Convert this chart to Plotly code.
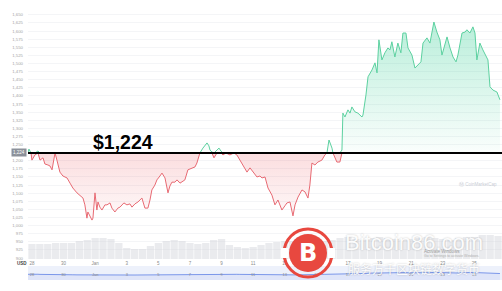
import plotly.graph_objects as go

# ---------------- data ----------------
baseline = 1224

day = [-0.25, -0.19, -0.06, 0.0, 0.19, 0.38, 0.51, 0.70, 0.82, 1.01, 1.14, 1.27, 1.46, 1.58,
       1.77, 1.96, 2.22, 2.41, 2.59, 2.85, 3.04, 3.23, 3.35, 3.48, 3.54, 3.67, 3.80, 3.86,
       3.99, 4.11, 4.18, 4.30, 4.43, 4.62, 4.75, 4.94, 5.06, 5.25, 5.44, 5.57, 5.82, 6.01,
       6.20, 6.33, 6.52, 6.71, 6.96, 7.15, 7.34, 7.47, 7.59, 7.78, 7.91, 8.10, 8.23, 8.42,
       8.61, 8.73, 8.86, 9.05, 9.18, 9.37, 9.56, 9.68, 9.87, 10.13, 10.32, 10.44, 10.63,
       10.82, 10.95, 11.08, 11.20, 11.27, 11.39, 11.52, 11.71, 11.84, 11.96, 12.09, 12.28,
       12.53, 12.78, 12.97, 13.16, 13.29, 13.48, 13.61, 13.80, 13.99, 14.24, 14.43, 14.56,
       14.75, 14.94, 15.19, 15.38, 15.57, 15.82, 16.01, 16.14, 16.33, 16.52, 16.65, 16.84,
       17.09, 17.28, 17.47, 17.59, 17.72, 17.91, 18.10, 18.35, 18.54, 18.67, 18.80, 18.99,
       19.05, 19.30, 19.49, 19.62, 19.68, 19.81, 20.00, 20.13, 20.25, 20.44, 20.63, 20.89,
       20.95, 21.14, 21.27, 21.52, 21.71, 21.84, 21.96, 22.15, 22.34, 22.53, 22.66, 22.78,
       22.97, 23.16, 23.35, 23.48, 23.67, 23.80, 24.05, 24.24, 24.43, 24.62, 24.75, 25.00,
       25.19, 25.44, 25.63, 25.82, 25.95, 26.08, 26.27, 26.46, 26.65, 26.84, 26.96, 27.22,
       27.41, 27.53, 27.72, 27.91, 28.04, 28.16, 28.35, 28.54, 28.80, 28.86, 28.99, 29.18,
       29.43, 29.62]

price = [1224, 1236, 1224, 1202, 1218, 1230, 1202, 1209, 1190, 1187, 1184, 1172, 1224, 1202,
         1165, 1153, 1147, 1131, 1116, 1101, 1094, 1085, 1064, 1023, 1042, 1030, 1017, 1023,
         1101, 1048, 1073, 1057, 1048, 1064, 1064, 1070, 1054, 1042, 1054, 1057, 1070, 1064,
         1067, 1057, 1067, 1073, 1085, 1054, 1054, 1079, 1110, 1125, 1141, 1153, 1162, 1147,
         1101, 1122, 1134, 1134, 1141, 1131, 1138, 1141, 1172, 1178, 1181, 1193, 1224,
         1239, 1246, 1255, 1246, 1233, 1227, 1209, 1233, 1239, 1230, 1218, 1224,
         1218, 1224, 1218, 1202, 1193, 1178, 1165, 1178, 1165, 1150, 1153, 1147,
         1150, 1116, 1094, 1064, 1079, 1048, 1061, 1070, 1073, 1030, 1064, 1088,
         1110, 1104, 1085, 1125, 1193, 1187, 1196, 1202, 1218, 1224, 1264, 1239,
         1224, 1196, 1196, 1233, 1347, 1335, 1357, 1347, 1366, 1351, 1347, 1335,
         1341, 1403, 1459, 1480, 1502, 1471, 1573, 1511, 1533, 1548, 1542, 1567,
         1520, 1563, 1533, 1594, 1594, 1548, 1526, 1486, 1496, 1505, 1563, 1579,
         1563, 1628, 1597, 1573, 1526, 1551, 1582, 1548, 1520, 1505, 1526, 1594,
         1597, 1604, 1594, 1613, 1594, 1511, 1563, 1542, 1520, 1511, 1428, 1418,
         1412, 1388]

vol_day = [0.0, 0.5, 1.0, 1.5, 2.0, 2.5, 3.0, 3.5, 4.0, 4.5, 5.0, 5.5, 6.0, 6.5, 7.0, 7.5,
           8.0, 8.5, 9.0, 9.5, 10.0, 10.5, 11.0, 11.5, 12.0, 12.5, 13.0, 13.5, 14.0, 14.5,
           15.0, 15.5, 16.0, 16.5, 17.0, 17.5, 18.0, 18.5, 19.0, 19.5, 20.0, 20.5, 21.0, 21.5,
           22.0, 22.5, 23.0, 23.5, 24.0, 24.5, 25.0, 25.5, 26.0, 26.5, 27.0, 27.5, 28.0, 28.5,
           29.0, 29.5]
volume = [15, 15, 15, 16, 16, 16, 18, 19, 21, 21, 20, 16, 11, 10, 10, 13, 16, 18, 19, 18,
          16, 15, 16, 19, 20, 14, 12, 11, 12, 14, 16, 17, 18, 18, 17, 16, 17, 18, 19, 21,
          22, 20, 19, 21, 22, 21, 20, 19, 20, 21, 22, 21, 20, 19, 21, 22, 22, 24, 24, 23]

tick_days = [0, 2, 4, 6, 8, 10, 12, 14, 16, 18, 20, 22, 24, 26, 28]
tick_labels = ["28", "30", "Jan", "3", "5", "7", "9", "11", "13", "15", "17", "19", "21", "23", "25"]

# ---------------- geometry helpers (pixel -> paper) ----------------
W, H = 502, 291
ML, MR, MT, MB = 28, 0, 10, 8
PW, PH = W - ML - MR, H - MT - MB


def fx(px):
    return (px - ML) / PW


def fy(py):
    return (H - MB - py) / PH


upper = [max(p, baseline) for p in price]
lower = [min(p, baseline) for p in price]
xr = [-0.25, 29.75]

fig = go.Figure()

# volume (behind)
fig.add_trace(go.Bar(x=vol_day, y=volume, width=0.46, marker=dict(color="rgba(205,208,214,0.42)", line=dict(width=0)),
                     xaxis="x", yaxis="y2", hoverinfo="skip", showlegend=False))

# green fill above baseline
fig.add_trace(go.Scatter(x=[day[0], day[-1]], y=[baseline, baseline], mode="lines",
                         line=dict(width=0, color="rgba(0,0,0,0)"), hoverinfo="skip", showlegend=False))
fig.add_trace(go.Scatter(x=day, y=upper, mode="lines", line=dict(color="#5cd1a0", width=1),
                         fill="tonexty",
                         fillgradient=dict(type="vertical",
                                           colorscale=[[0, "rgba(22,199,132,0.02)"], [1, "rgba(22,199,132,0.30)"]]),
                         hoverinfo="skip", showlegend=False))
# red fill below baseline
fig.add_trace(go.Scatter(x=[day[0], day[-1]], y=[baseline, baseline], mode="lines",
                         line=dict(width=0, color="rgba(0,0,0,0)"), hoverinfo="skip", showlegend=False))
fig.add_trace(go.Scatter(x=day, y=lower, mode="lines", line=dict(color="#e86a73", width=1),
                         fill="tonexty",
                         fillgradient=dict(type="vertical",
                                           colorscale=[[0, "rgba(234,57,67,0.03)"], [1, "rgba(234,57,67,0.17)"]]),
                         hoverinfo="skip", showlegend=False))

# navigator
fig.add_trace(go.Scatter(x=day, y=price, mode="lines", line=dict(color="#7b97ea", width=1),
                         fill="tozeroy", fillcolor="rgba(120,150,235,0.12)",
                         xaxis="x3", yaxis="y3", hoverinfo="skip", showlegend=False))

main_dom = [fy(259), 1]
fig.update_layout(
    width=W, height=H, margin=dict(l=ML, r=MR, t=MT, b=MB),
    paper_bgcolor="white", plot_bgcolor="rgba(0,0,0,0)",
    font=dict(family="Liberation Sans, Arial, sans-serif"),
    xaxis=dict(range=xr, domain=[0, 1], anchor="y", tickvals=tick_days, ticktext=tick_labels,
               tickfont=dict(size=4.5, color="#8a8a8a"), showgrid=False, zeroline=False,
               showline=False, ticks="", ticklen=0),
    yaxis=dict(domain=main_dom, range=[897, 1665], tick0=900, dtick=25, tickformat=",d",
               tickfont=dict(size=4.3, color="#a5a5a5"), showgrid=True, gridcolor="#f4f5f7",
               gridwidth=1, zeroline=False, showline=False, ticks="", ticklabelstandoff=4),
    yaxis2=dict(domain=[fy(259), fy(229)], range=[0, 30], showgrid=False, showticklabels=False,
                zeroline=False, anchor="x"),
    xaxis3=dict(range=xr, domain=[0, 1], anchor="y3", tickvals=tick_days, ticktext=tick_labels,
                ticklabelposition="inside", tickfont=dict(size=4, color="#8a8a8a"),
                showgrid=False, zeroline=False, showline=False, ticks=""),
    yaxis3=dict(domain=[fy(280), fy(266)], range=[0, 3000], showgrid=False, showticklabels=False,
                zeroline=False),
)

shapes = [
    dict(type="rect", xref="x3 domain", yref="y3 domain", x0=0, x1=1, y0=0, y1=1,
         fillcolor="#edf1fb", line=dict(width=0), layer="below"),
    dict(type="line", xref="paper", yref="y", x0=0, x1=1, y0=baseline, y1=baseline,
         line=dict(color="black", width=2)),
    # Bitcoin86 logo
    dict(type="circle", xref="paper", yref="paper", x0=fx(284), x1=fx(332), y0=fy(277), y1=fy(229),
         line=dict(color="#e8483f", width=3), fillcolor="rgba(0,0,0,0)"),
    dict(type="circle", xref="paper", yref="paper", x0=fx(289), x1=fx(327), y0=fy(272), y1=fy(234),
         line=dict(width=0), fillcolor="#e8483f"),
    dict(type="rect", xref="paper", yref="paper", x0=fx(281), x1=fx(288), y0=fy(258), y1=fy(248),
         line=dict(width=0), fillcolor="white"),
    dict(type="rect", xref="paper", yref="paper", x0=fx(328), x1=fx(335), y0=fy(258), y1=fy(248),
         line=dict(width=0), fillcolor="white"),
]
fig.update_layout(shapes=shapes)

annotations = [
    dict(text="<b>$1,224</b>", xref="paper", yref="paper", x=fx(122.5), y=fy(142), showarrow=False,
         font=dict(size=19.5, color="black", family="Liberation Sans, Arial"), xanchor="center", yanchor="middle"),
    dict(text="1,224", xref="paper", yref="y", x=fx(27), y=baseline, xanchor="right", yanchor="middle",
         showarrow=False, bgcolor="#8c919a", font=dict(size=4.5, color="white"), borderpad=1),
    dict(text="<b>USD</b>", xref="paper", yref="paper", x=fx(22), y=fy(263), xanchor="center", yanchor="middle",
         showarrow=False, font=dict(size=4.5, color="#444")),
    dict(text="Ⓜ CoinMarketCap", xref="paper", yref="paper", x=fx(499), y=fy(184), xanchor="right",
         yanchor="middle", showarrow=False, font=dict(size=4.5, color="#c9cdd5")),
    dict(text="Activate Windows", xref="paper", yref="paper", x=fx(422), y=fy(251), xanchor="left",
         yanchor="middle", showarrow=False, font=dict(size=4.5, color="#a0a0a0")),
    dict(text="Go to Settings to activate Windows.", xref="paper", yref="paper", x=fx(422), y=fy(256),
         xanchor="left", yanchor="middle", showarrow=False, font=dict(size=3.5, color="#b0b0b0")),
    dict(text="<b>B</b>", xref="paper", yref="paper", x=fx(308), y=fy(253), xanchor="center",
         yanchor="middle", showarrow=False, font=dict(size=24, color="white", family="DejaVu Sans")),
    dict(text="Bitcoin86.com", xref="paper", yref="paper", x=fx(414), y=fy(242), xanchor="center",
         yanchor="middle", showarrow=False,
         font=dict(size=22, color="rgba(255,255,255,0.95)", family="Liberation Sans, Arial",
                   shadow="0px 0px 2px rgba(0,0,0,0.25)")),
    dict(text="服务万千区块链数字货币", xref="paper", yref="paper", x=fx(414), y=fy(268), xanchor="center",
         yanchor="middle", showarrow=False,
         font=dict(size=12, color="rgba(255,255,255,0.95)", family="Noto Sans CJK SC",
                   shadow="0px 0px 2px rgba(0,0,0,0.25)")),
]
fig.update_layout(annotations=annotations)

fig.write_html("out.html")
